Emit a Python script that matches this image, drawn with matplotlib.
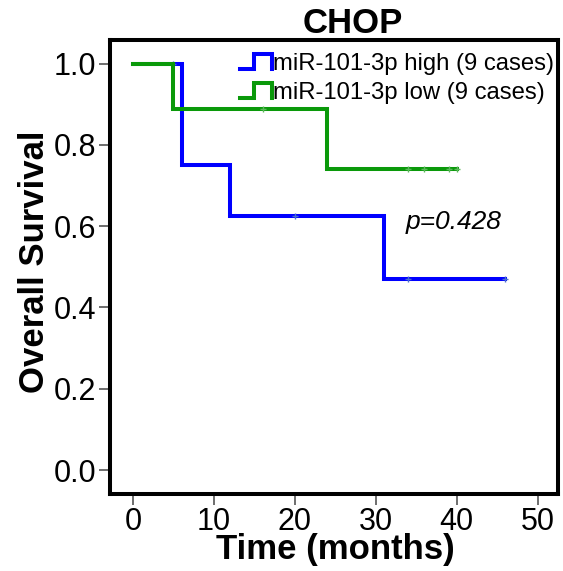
import numpy as np
import matplotlib
matplotlib.use("Agg")
import matplotlib.pyplot as plt
from matplotlib.legend_handler import HandlerBase
from matplotlib.lines import Line2D

plt.rcParams["font.family"] = ["Liberation Sans", "DejaVu Sans"]

# -----------------------------
# Data (Kaplan-Meier steps)
# -----------------------------
high_times = [0, 6, 12, 31, 46]
high_surv = [1.0, 0.75, 0.625, 0.469, 0.469]
high_cens_t = [5, 20, 34, 46]
high_cens_s = [1.0, 0.625, 0.469, 0.469]

low_times = [0, 5, 24, 40]
low_surv = [1.0, 0.889, 0.741, 0.741]
low_cens_t = [16, 34, 36, 39, 40]
low_cens_s = [0.889, 0.741, 0.741, 0.741, 0.741]

labels = ["miR-101-3p high (9 cases)", "miR-101-3p low (9 cases)"]
p_text = "p=0.428"
x_ticks = [0, 10, 20, 30, 40, 50]
y_ticks = [0.0, 0.2, 0.4, 0.6, 0.8, 1.0]

blue = "#0000ff"
green = "#0a990a"


class StepHandler(HandlerBase):
    # little "_|‾|" step icon like the SPSS legend
    def create_artists(self, legend, orig_handle, xdescent, ydescent,
                       width, height, fontsize, trans):
        x0, x1 = -xdescent, -xdescent + width
        y0, y1 = -ydescent + 0.05 * height, -ydescent + 0.95 * height
        xm = x0 + 0.45 * width
        xs = [x0, xm, xm, x1, x1]
        ys = [y0, y0, y1, y1, y0]
        ln = Line2D(xs, ys, color=orig_handle.get_color(),
                    lw=orig_handle.get_linewidth(), transform=trans,
                    solid_joinstyle="miter")
        return [ln]


fig = plt.figure(figsize=(5.63, 5.71), dpi=100)
ax = fig.add_axes([110 / 563, 1 - 494 / 571, 448 / 563, 454 / 571])

l1, = ax.step(high_times, high_surv, where="post", color=blue, lw=2.9,
              solid_joinstyle="miter")
ax.plot(high_cens_t, high_cens_s, ls="none", marker="+", ms=5, mew=1.0,
        color="#4a6fd0")
l2, = ax.step(low_times, low_surv, where="post", color=green, lw=2.9,
              solid_joinstyle="miter")
ax.plot(low_cens_t, low_cens_s, ls="none", marker="+", ms=5, mew=1.0,
        color="#5cb85c")

ax.set_xlim(-2.84, 52.5)
ax.set_ylim(-0.059, 1.058)
ax.set_xticks(x_ticks)
ax.set_yticks(y_ticks)
ax.set_yticklabels([f"{v:.1f}" for v in y_ticks])
ax.tick_params(axis="both", direction="out", length=8, width=1.2,
               color="#555555", labelsize=22, pad=2)
ax.tick_params(axis="x", pad=1)

for s in ax.spines.values():
    s.set_linewidth(2.9)
    s.set_color("black")

ax.text(33.7, 0.61, p_text, fontsize=19, style="italic", va="center",
        ha="left")

leg = ax.legend([l1, l2], labels, loc="upper right",
                bbox_to_anchor=(1.005, 0.985), frameon=False, fontsize=17.2,
                handler_map={Line2D: StepHandler()}, handlelength=1.35,
                handletextpad=0.05, labelspacing=0.3, borderpad=0.2,
                borderaxespad=0.05)

fig.text(353 / 563, 1 - 33 / 571, "CHOP", fontsize=25, fontweight="bold",
         ha="center", va="baseline")
fig.text(335 / 563, 1 - 550 / 571, "Time (months)", fontsize=25,
         fontweight="bold", ha="center", va="center")
fig.text(35 / 563, 1 - 262 / 571, "Overall Survival", fontsize=25,
         fontweight="bold", ha="center", va="center", rotation=90)

fig.savefig("out.png", dpi=100)
